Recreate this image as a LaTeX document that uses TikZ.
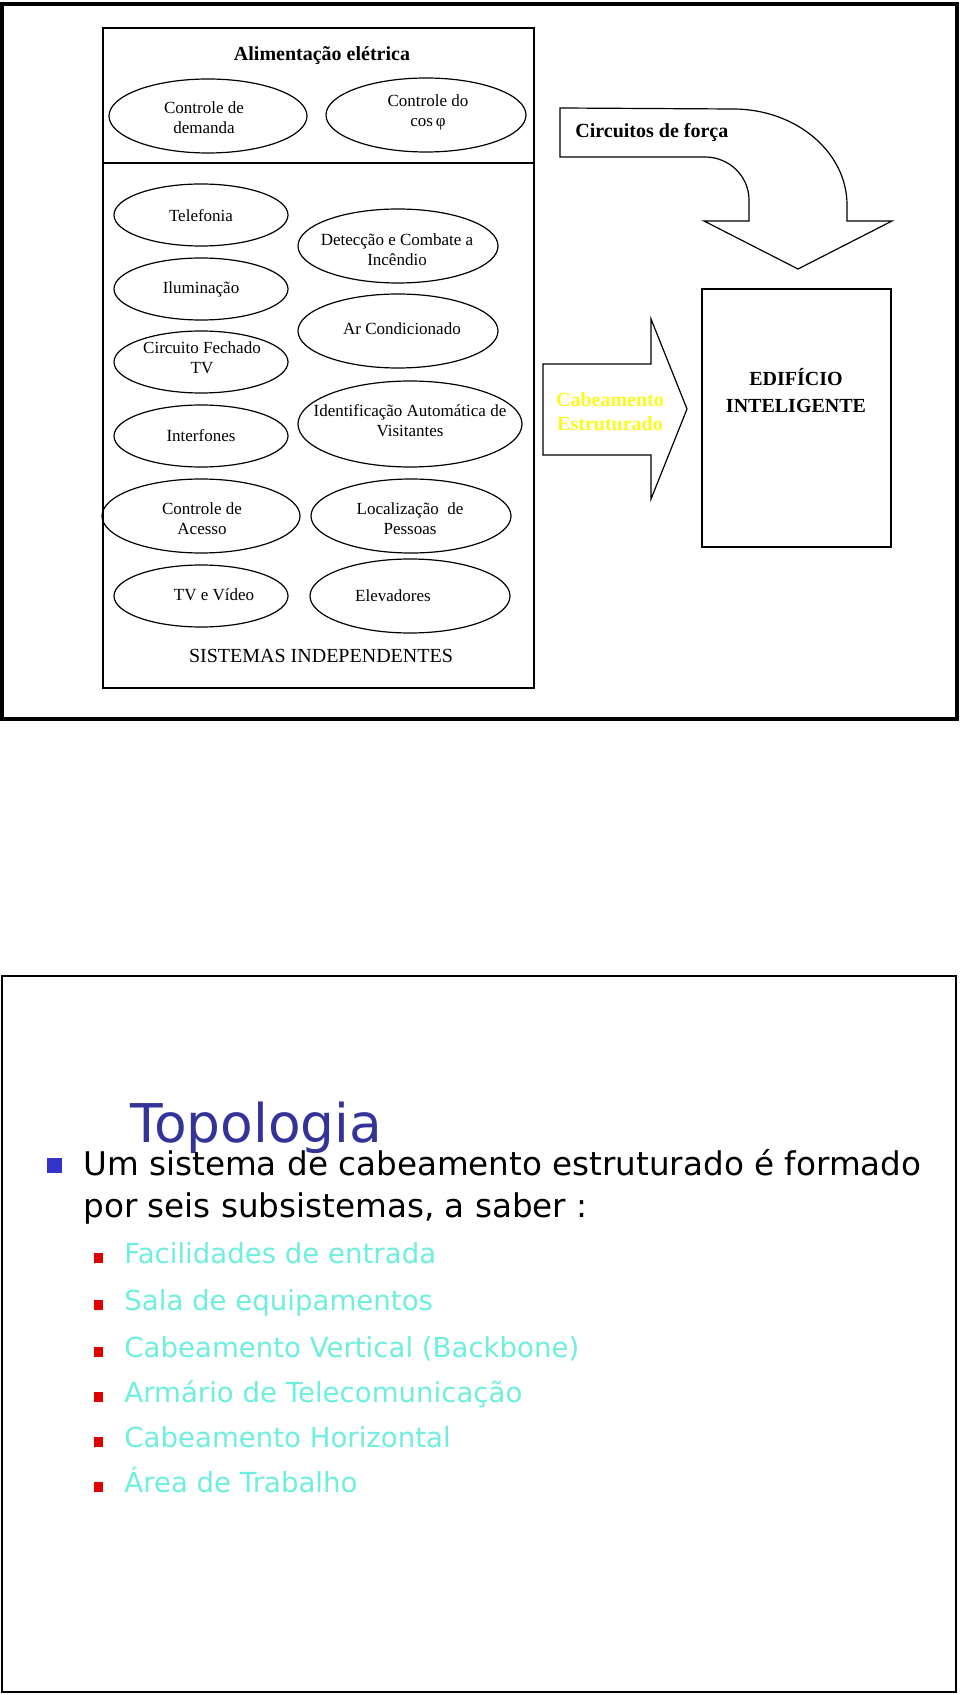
\documentclass[tikz,border=0pt]{standalone}
\usepackage{fontspec}
\setmainfont{Liberation Serif}
\newfontfamily\slidefont{DejaVu Sans}

\definecolor{titleblue}{RGB}{51,51,153}
\definecolor{bulletblue}{RGB}{51,51,204}
\definecolor{itemcyan}{RGB}{110,238,220}
\definecolor{cableyellow}{RGB}{250,250,30}
\definecolor{bulletred}{RGB}{225,0,0}

\tikzset{
  oval/.style={line width=0.6pt},
  txt/.style={align=center, inner sep=0pt, font=\fontsize{8.5}{10}\selectfont},
  boldtxt/.style={align=center, inner sep=0pt, font=\fontsize{10}{12}\selectfont\bfseries},
  item/.style={anchor=base west, inner sep=0pt, font=\slidefont\fontsize{13.8}{16}\selectfont, text=itemcyan},
  intro/.style={anchor=base west, inner sep=0pt, font=\slidefont\fontsize{16.3}{20}\selectfont},
}

\begin{document}
\begin{tikzpicture}[x=0.5pt, y=-0.5pt]
\useasboundingbox (0,0) rectangle (960,1695);

% -------- first slide -----------
\draw[line width=1.6pt] (2,4) rectangle (957,719);
\draw[line width=0.6pt] (103,28) rectangle (534,688);
\draw[line width=0.6pt] (103,163) -- (534,163);

\node[boldtxt, anchor=base] (ali) at (322,61) {Alimentação elétrica};

\draw[oval] (208,116) ellipse [x radius=99, y radius=37];
\draw[oval] (426,115) ellipse [x radius=100, y radius=37];
\node[txt] (dem) at (204,118) {Controle de\\demanda};
\node[txt] (cos) at (428,112) {Controle do\\cos\,φ};

\draw[oval] (201,215) ellipse [x radius=87, y radius=31];
\draw[oval] (398,246) ellipse [x radius=100, y radius=37];
\draw[oval] (201,289) ellipse [x radius=87, y radius=31];
\draw[oval] (398,331) ellipse [x radius=100, y radius=37];
\draw[oval] (201,362) ellipse [x radius=87, y radius=31];
\draw[oval] (410,424) ellipse [x radius=112, y radius=43];
\draw[oval] (201,436) ellipse [x radius=87, y radius=31];
\draw[oval] (201,516) ellipse [x radius=99, y radius=37];
\draw[oval] (411,516) ellipse [x radius=100, y radius=37];
\draw[oval] (201,596) ellipse [x radius=87, y radius=31];
\draw[oval] (410,596) ellipse [x radius=100, y radius=37];

\node[txt] (tel) at (201,216) {Telefonia};
\node[txt] (det) at (397,250) {Detecção e Combate a\\Incêndio};
\node[txt] (ilu) at (201,289) {Iluminação};
\node[txt] (arc) at (402,329) {Ar Condicionado};
\node[txt] (cft) at (202,358) {Circuito Fechado\\TV};
\node[txt] (ida) at (410,421) {Identificação Automática de\\Visitantes};
\node[txt] (int) at (201,436) {Interfones};
\node[txt] (ace) at (202,519) {Controle de\\Acesso};
\node[txt] (loc) at (410,519) {Localização \ de\\Pessoas};
\node[txt] (tvv) at (214,595) {TV e Vídeo};
\node[txt] (ele) at (393,596) {Elevadores};

\node[anchor=base, inner sep=0pt, font=\fontsize{10}{12}\selectfont] (sis) at (321,662) {SISTEMAS INDEPENDENTES};

% curved arrow
\draw[line width=0.6pt] (560,108) -- (733,109) .. controls (796,109) and (847,152) .. (847,205)
  -- (847,221) -- (892,221) -- (798,269) -- (704,221) -- (749,221) -- (749,200)
  .. controls (749,176) and (729,157) .. (705,157) -- (560,157) -- cycle;
\node[boldtxt, anchor=base west] (frc) at (575,138) {Circuitos de força};

% straight arrow
\draw[line width=0.6pt] (543,364) -- (651,364) -- (651,319) -- (687,409) -- (651,499)
  -- (651,455) -- (543,455) -- cycle;
\node[boldtxt, text=cableyellow] (cab) at (610,412) {Cabeamento\\Estruturado};

\draw[line width=0.6pt] (702,289) rectangle (891,547);
\node[boldtxt, font=\fontsize{10}{13.5}\selectfont\bfseries] (edi) at (796,391) {EDIFÍCIO\\INTELIGENTE};

% -------- second slide -----------
\draw[line width=1.3pt] (2,976) rectangle (956,1692);

\node[anchor=base west, inner sep=0pt, font=\slidefont\fontsize{26.7}{30}\selectfont, text=titleblue] (topo) at (130,1142) {Topologia};

\fill[bulletblue] (47,1158) rectangle (62,1173);
\node[intro] (um) at (83,1175) {Um sistema de cabeamento estruturado é formado};
\node[intro] (por) at (83,1217) {por seis subsistemas, a saber :};

\fill[bulletred] (94,1253) rectangle (103,1263);
\fill[bulletred] (94,1300) rectangle (103,1310);
\fill[bulletred] (94,1347) rectangle (103,1357);
\fill[bulletred] (94,1392) rectangle (103,1402);
\fill[bulletred] (94,1437) rectangle (103,1447);
\fill[bulletred] (94,1482) rectangle (103,1492);

\node[item] (fac) at (124,1263) {Facilidades de entrada};
\node[item] (sal) at (124,1310) {Sala de equipamentos};
\node[item] (cbv) at (124,1357) {Cabeamento Vertical (Backbone)};
\node[item] (arm) at (124,1402) {Armário de Telecomunicação};
\node[item] (cbh) at (124,1447) {Cabeamento Horizontal};
\node[item] (are) at (124,1492) {Área de Trabalho};

\end{tikzpicture}
\end{document}
